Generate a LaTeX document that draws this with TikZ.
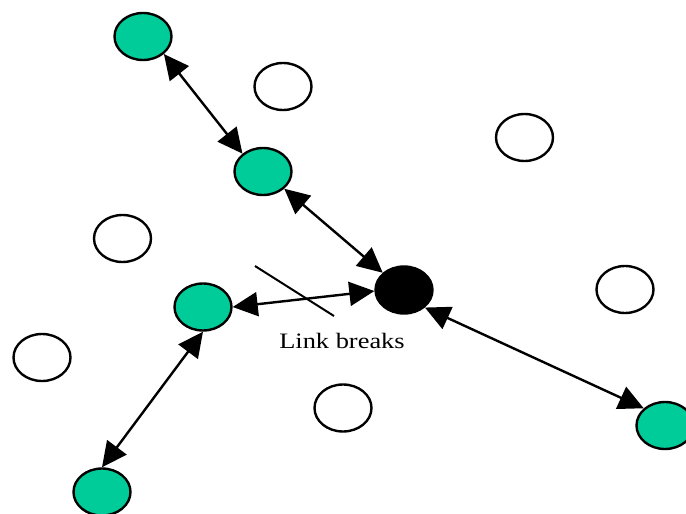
\documentclass[tikz,border=0pt]{standalone}
\usepackage{fontspec}
\setmainfont{Liberation Serif}
\usetikzlibrary{arrows.meta,shapes.geometric}
\definecolor{nodegreen}{RGB}{0,204,153}
\tikzset{
  host/.style={ellipse, draw=black, line width=2.4pt, minimum width=57pt,
    minimum height=47pt, inner sep=0pt},
  active/.style={host, fill=nodegreen},
  idle/.style={host, fill=white},
  source/.style={host, fill=black},
  link/.style={line width=2.4pt, {Triangle[length=25pt 0 0,width=24pt 0 0]}-{Triangle[length=25pt 0 0,width=24pt 0 0]}},
  cut/.style={line width=2pt}
}
\begin{document}
\begin{tikzpicture}[x=1pt,y=-1pt]
\useasboundingbox (0,0) rectangle (686,514);
% mobile hosts
\node[active] (g1) at (143,36.5) {};
\node[active] (g2) at (263,171.5) {};
\node[active] (g3) at (203,307) {};
\node[active] (g4) at (102,492) {};
\node[active] (g5) at (665,425.5) {};
\node[source] (s) at (404,290) {};
\node[idle] (w1) at (283,86.5) {};
\node[idle] (w2) at (524.5,137.5) {};
\node[idle] (w3) at (122.5,238.5) {};
\node[idle] (w4) at (625,289.5) {};
\node[idle] (w5) at (42,357.5) {};
\node[idle] (w6) at (343,408) {};
% links
\draw[link] (g1.-40) -- (g2.139);
\draw[link] (g2.-39) -- (s.141);
\draw[link] (g3.0) -- (s.182);
\draw[link] (s.-40) -- (g5.141);
\draw[link] (g3.south) -- (g4.north);
% broken link marker
\coordinate (c1) at (255,266);
\coordinate (c2) at (334,316);
\draw[cut] (c1) -- (c2);
\node[anchor=base, inner sep=0pt] (lbl) at (342,348)
  {\scalebox{1.2}[1]{\fontsize{22}{22}\selectfont Link breaks}};
\end{tikzpicture}
\end{document}
